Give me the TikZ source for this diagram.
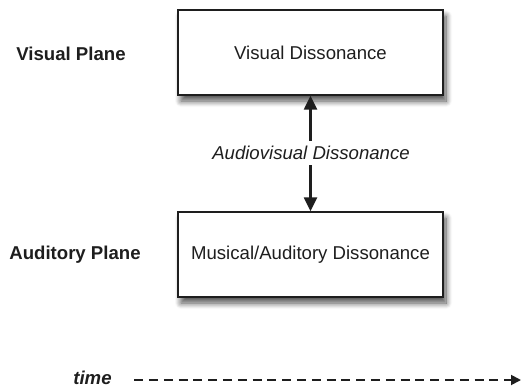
\documentclass[tikz,border=0pt]{standalone}
\usepackage{fontspec}
\setmainfont{Liberation Sans}
\usetikzlibrary{shadows.blur,arrows.meta}
\definecolor{ink}{HTML}{1E1E1E}
\tikzset{
  box/.style={draw=ink, line width=1.4pt, fill=white, minimum width=265pt, minimum height=85pt, inner sep=0pt,
    blur shadow={shadow xshift=3pt, shadow yshift=-6pt, shadow blur radius=6pt, shadow blur steps=10, shadow opacity=70}},
  lbl/.style={font=\fontsize{18.6}{22}\selectfont, text=ink},
  side/.style={font=\fontsize{18.6}{22}\selectfont\bfseries, text=ink},
  conn/.style={draw=ink, line width=2.4pt, -{Triangle[length=14pt,width=13pt]}},
}
\begin{document}
\begin{tikzpicture}[x=1pt,y=-1pt]
\useasboundingbox (0,0) rectangle (522,388);
\node[box, lbl] (vis) at (310.5,52.5) {Visual Dissonance};
\node[box, lbl] (aud) at (310.5,254.5) {Musical/Auditory Dissonance};
\node[side] (vp) at (71,54) {Visual Plane};
\node[side] (ap) at (75,255) {Auditory Plane};
\node[lbl, font=\fontsize{18.6}{22}\selectfont\itshape, inner sep=2pt] (av) at (311,153) {Audiovisual Dissonance};
\draw[conn] (av.north -| vis.south) ++(0,-3) -- (vis.south);
\draw[conn] (av.south -| aud.north) ++(0,3) -- (aud.north);
\node[side, font=\fontsize{18.6}{22}\selectfont\bfseries\itshape] (t) at (92.5,378) {time};
\coordinate (tend) at (521,380);
\draw[draw=ink, line width=1.8pt, dash pattern=on 9pt off 5.8pt, -{Triangle[length=10pt,width=10pt]}] (t.east |- tend) ++(19,0) -- (tend);
\end{tikzpicture}
\end{document}
